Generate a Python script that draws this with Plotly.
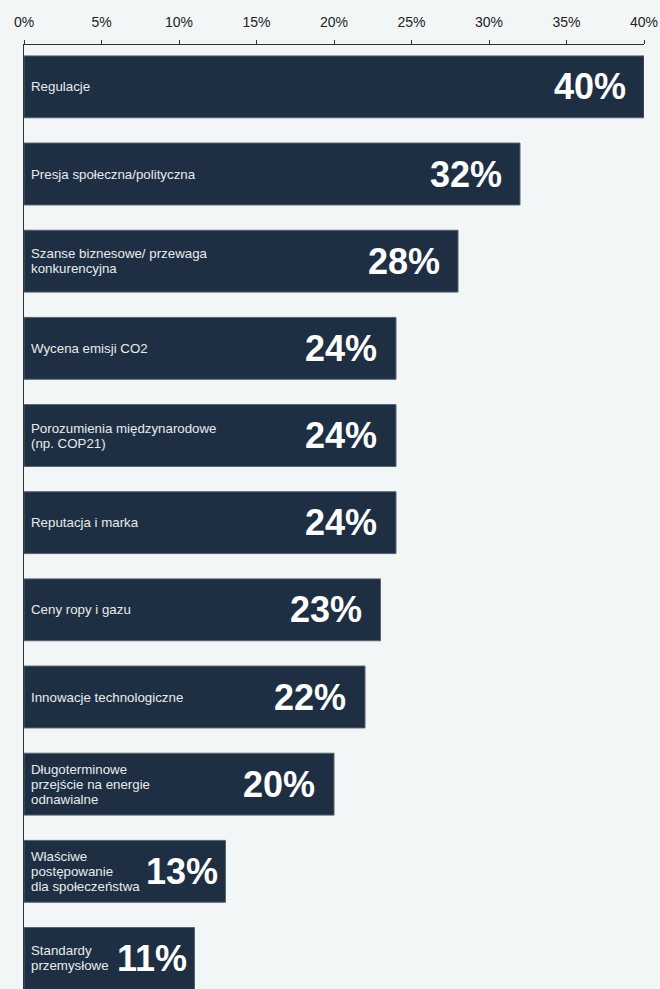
import plotly.graph_objects as go

# Survey results: drivers of climate action (share of respondents)
categories = [
    "Regulacje",
    "Presja społeczna/polityczna",
    "Szanse biznesowe/ przewaga<br>konkurencyjna",
    "Wycena emisji CO2",
    "Porozumienia międzynarodowe<br>(np. COP21)",
    "Reputacja i marka",
    "Ceny ropy i gazu",
    "Innowacje technologiczne",
    "Długoterminowe<br>przejście na energie<br>odnawialne",
    "Właściwe<br>postępowanie<br>dla społeczeństwa",
    "Standardy<br>przemysłowe",
]
values = [40, 32, 28, 24, 24, 24, 23, 22, 20, 13, 11]
tick_values = [0, 5, 10, 15, 20, 25, 30, 35, 40]
tick_labels = [f"{v}%" for v in tick_values]

BG = "#f3f6f7"
BAR = "#1f2f43"
FONT = "Liberation Sans, Arial, sans-serif"

# gap (px) between bar end and the big value label; short bars use a tighter gap
label_pad = [16, 16, 16, 17, 17, 17, 17, 17, 17, 6, 6]

idx = list(range(len(categories)))

fig = go.Figure(
    go.Bar(
        x=values,
        y=idx,
        orientation="h",
        marker=dict(color=BAR, line=dict(color="#56636f", width=1)),
        width=0.71,
        hoverinfo="skip",
    )
)

annotations = []
line_h = 15
for i, (cat, v) in enumerate(zip(categories, values)):
    lines = cat.split("<br>")
    n = len(lines)
    for k, ln in enumerate(lines):
        annotations.append(dict(
            x=0, y=i, xref="x", yref="y",
            text=ln, showarrow=False,
            xanchor="left", yanchor="middle",
            xshift=5, yshift=-(k - (n - 1) / 2) * line_h,
            font=dict(family=FONT, size=13.3, color="#e8ebee"),
        ))
    annotations.append(dict(
        x=v, y=i, xref="x", yref="y",
        text=f"<b>{v}%</b>", showarrow=False,
        xanchor="right", yanchor="middle",
        xshift=-label_pad[i], yshift=0,
        font=dict(family=FONT, size=36, color="#ffffff"),
    ))

fig.update_layout(
    width=660, height=989,
    margin=dict(l=24, r=16, t=45, b=0),
    paper_bgcolor=BG, plot_bgcolor=BG,
    showlegend=False,
    annotations=annotations,
    xaxis=dict(
        side="top", range=[0, 40],
        tickvals=tick_values, ticktext=tick_labels,
        tickfont=dict(family=FONT, size=14, color="#222222"),
        ticks="outside", ticklen=4, tickcolor="#333333", tickwidth=1,
        showline=True, linecolor="#333333", linewidth=1,
        showgrid=False, zeroline=False,
        ticklabelstandoff=7,
    ),
    yaxis=dict(
        range=[10.35, -0.48],
        showticklabels=False, ticks="",
        showline=True, linecolor="#333333", linewidth=1,
        showgrid=False, zeroline=False,
    ),
)

fig.write_html("out.html")
